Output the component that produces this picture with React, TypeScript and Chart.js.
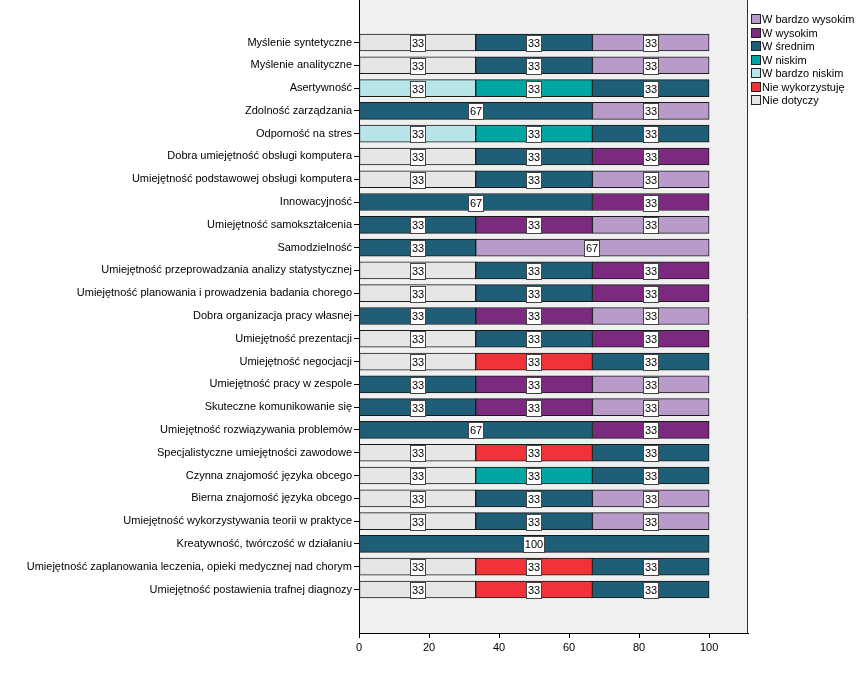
import React, { useEffect, useRef } from "react";
import { Chart, registerables } from "chart.js";

Chart.register(...registerables);

const categories = [
  "Myślenie syntetyczne",
  "Myślenie analityczne",
  "Asertywność",
  "Zdolność zarządzania",
  "Odporność na stres",
  "Dobra umiejętność obsługi komputera",
  "Umiejętność podstawowej obsługi komputera",
  "Innowacyjność",
  "Umiejętność samokształcenia",
  "Samodzielność",
  "Umiejętność przeprowadzania analizy statystycznej",
  "Umiejętność planowania i prowadzenia badania chorego",
  "Dobra organizacja pracy własnej",
  "Umiejętność prezentacji",
  "Umiejętność negocjacji",
  "Umiejętność pracy w zespole",
  "Skuteczne komunikowanie się",
  "Umiejętność rozwiązywania problemów",
  "Specjalistyczne umiejętności zawodowe",
  "Czynna znajomość języka obcego",
  "Bierna znajomość języka obcego",
  "Umiejętność wykorzystywania teorii w praktyce",
  "Kreatywność, twórczość w działaniu",
  "Umiejętność zaplanowania leczenia, opieki medycznej nad chorym",
  "Umiejętność postawienia trafnej diagnozy",
];

const seriesNames = [
  "Nie dotyczy",
  "Nie wykorzystuję",
  "W bardzo niskim",
  "W niskim",
  "W średnim",
  "W wysokim",
  "W bardzo wysokim",
];

const seriesColors = [
  "#E6E6E6",
  "#EF3338",
  "#B8E5E7",
  "#00A6A2",
  "#1F5E77",
  "#7B2A80",
  "#B89ACB",
];

const nieDotyczy = [33.33, 33.33, 0, 0, 0, 33.33, 33.33, 0, 0, 0, 33.33, 33.33, 0, 33.33, 33.33, 0, 0, 0, 33.33, 33.33, 33.33, 33.33, 0, 33.33, 33.33];
const nieWykorzystuje = [0, 0, 0, 0, 0, 0, 0, 0, 0, 0, 0, 0, 0, 0, 33.33, 0, 0, 0, 33.33, 0, 0, 0, 0, 33.33, 33.33];
const wBardzoNiskim = [0, 0, 33.33, 0, 33.33, 0, 0, 0, 0, 0, 0, 0, 0, 0, 0, 0, 0, 0, 0, 0, 0, 0, 0, 0, 0];
const wNiskim = [0, 0, 33.33, 0, 33.33, 0, 0, 0, 0, 0, 0, 0, 0, 0, 0, 0, 0, 0, 0, 33.33, 0, 0, 0, 0, 0];
const wSrednim = [33.33, 33.33, 33.33, 66.67, 33.33, 33.33, 33.33, 66.67, 33.33, 33.33, 33.33, 33.33, 33.33, 33.33, 33.33, 33.33, 33.33, 66.67, 33.33, 33.33, 33.33, 33.33, 100, 33.33, 33.33];
const wWysokim = [0, 0, 0, 0, 0, 33.33, 0, 33.33, 33.33, 0, 33.33, 33.33, 33.33, 33.33, 0, 33.33, 33.33, 33.33, 0, 0, 0, 0, 0, 0, 0];
const wBardzoWysokim = [33.33, 33.33, 0, 33.33, 0, 0, 33.33, 0, 33.33, 66.67, 0, 0, 33.33, 0, 0, 33.33, 33.33, 0, 0, 0, 33.33, 33.33, 0, 0, 0];

const xTicks = [0, 20, 40, 60, 80, 100];

const FONT = "'Liberation Sans', Arial, sans-serif";

export default function App() {
  const ref = useRef<HTMLCanvasElement>(null);

  useEffect(() => {
    const canvas = ref.current;
    if (!canvas) return;
    const series = [nieDotyczy, nieWykorzystuje, wBardzoNiskim, wNiskim, wSrednim, wWysokim, wBardzoWysokim];
    const datasets = series.map((vals, k) => ({
      label: seriesNames[k],
      data: vals.map((v, i) => ({ x: v, y: i })).filter((d) => d.x > 0),
      backgroundColor: seriesColors[k],
      borderColor: "#1a1a1a",
      borderWidth: 1,
      borderSkipped: false,
      barThickness: 17,
    }));

    const panel = {
      id: "panel",
      beforeDraw(chart: any) {
        const { ctx, chartArea: a } = chart;
        ctx.save();
        ctx.fillStyle = "#FFFFFF";
        ctx.fillRect(0, 0, chart.width, chart.height);
        ctx.fillStyle = "#F0F0F0";
        ctx.fillRect(a.left, a.top, a.right - a.left, a.bottom - a.top);
        ctx.strokeStyle = "#333";
        ctx.lineWidth = 1;
        ctx.beginPath();
        ctx.moveTo(Math.round(a.right) - 0.5, a.top);
        ctx.lineTo(Math.round(a.right) - 0.5, a.bottom);
        ctx.stroke();
        ctx.restore();
      },
    };

    const valueLabels = {
      id: "valueLabels",
      afterDatasetsDraw(chart: any) {
        const ctx = chart.ctx;
        ctx.save();
        ctx.font = `11px ${FONT}`;
        ctx.textAlign = "center";
        ctx.textBaseline = "middle";
        chart.data.datasets.forEach((ds: any, di: number) => {
          const meta = chart.getDatasetMeta(di);
          meta.data.forEach((el: any, j: number) => {
            const raw = ds.data[j].x;
            const txt = String(Math.round(raw));
            const cx = (el.x + el.base) / 2;
            const cy = el.y + 1;
            const w = Math.round(ctx.measureText(txt).width + 4);
            const h = 17;
            const bx = Math.round(cx - w / 2);
            const by = Math.round(cy - h / 2);
            ctx.fillStyle = "#FFFFFF";
            ctx.fillRect(bx, by, w, h);
            ctx.strokeStyle = "#444";
            ctx.lineWidth = 1;
            ctx.strokeRect(bx + 0.5, by + 0.5, w - 1, h - 1);
            ctx.fillStyle = "#000";
            ctx.fillText(txt, bx + w / 2, by + h / 2 + 0.5);
          });
        });
        ctx.restore();
      },
    };

    const legendPlugin = {
      id: "customLegend",
      afterDraw(chart: any) {
        const ctx = chart.ctx;
        ctx.save();
        ctx.font = `11px ${FONT}`;
        ctx.textBaseline = "middle";
        ctx.textAlign = "left";
        const x0 = 751;
        const y0 = 14;
        const step = 13.5;
        for (let k = seriesNames.length - 1, n = 0; k >= 0; k--, n++) {
          const y = Math.round(y0 + n * step);
          ctx.fillStyle = seriesColors[k];
          ctx.fillRect(x0, y, 10, 10);
          ctx.strokeStyle = "#222";
          ctx.lineWidth = 1;
          ctx.strokeRect(x0 + 0.5, y + 0.5, 9, 9);
          ctx.fillStyle = "#000";
          ctx.fillText(seriesNames[k], x0 + 11, y + 5.5);
        }
        ctx.restore();
      },
    };

    const chart = new Chart(canvas, {
      type: "bar",
      data: { datasets: datasets as any },
      plugins: [panel, valueLabels, legendPlugin],
      options: {
        indexAxis: "y",
        animation: false,
        responsive: false,
        maintainAspectRatio: false,
        layout: { padding: { left: 0, right: 111, top: 0, bottom: 0 } },
        plugins: {
          legend: { display: false },
          tooltip: { enabled: false },
        },
        scales: {
          x: {
            type: "linear",
            stacked: true,
            offset: false,
            min: 0,
            max: 111.1,
            afterBuildTicks: (s: any) => {
              s.ticks = xTicks.map((v) => ({ value: v }));
            },
            afterFit: (s: any) => {
              s.height = 54;
              s.paddingLeft = 0;
              s.paddingRight = 0;
            },
            ticks: {
              font: { size: 11, family: FONT },
              color: "#000",
              padding: 3,
              maxRotation: 0,
            },
            grid: { display: true, offset: false, drawOnChartArea: false, drawTicks: true, tickLength: 5, color: "#000" },
            border: { display: true, color: "#000", width: 1 },
          },
          y: {
            type: "linear",
            stacked: true,
            reverse: true,
            offset: false,
            min: -1.865,
            max: 25.91,
            afterBuildTicks: (s: any) => {
              s.ticks = categories.map((_, i) => ({ value: i }));
            },
            afterFit: (s: any) => {
              s.width = 359;
              s.paddingTop = 0;
              s.paddingBottom = 0;
            },
            ticks: {
              autoSkip: false,
              font: { size: 11, family: FONT },
              color: "#000",
              padding: 2,
              callback: (v: any) => categories[v] ?? "",
            },
            grid: { display: true, offset: false, drawOnChartArea: false, drawTicks: true, tickLength: 5, color: "#000" },
            border: { display: true, color: "#000", width: 1 },
          },
        },
      } as any,
    });

    return () => chart.destroy();
  }, []);

  return (
    <div style={{ position: "fixed", left: 0, top: 0, width: 859, height: 687, background: "#fff" }}>
      <canvas ref={ref} width={859} height={687} style={{ display: "block", width: 859, height: 687 }} />
    </div>
  );
}
